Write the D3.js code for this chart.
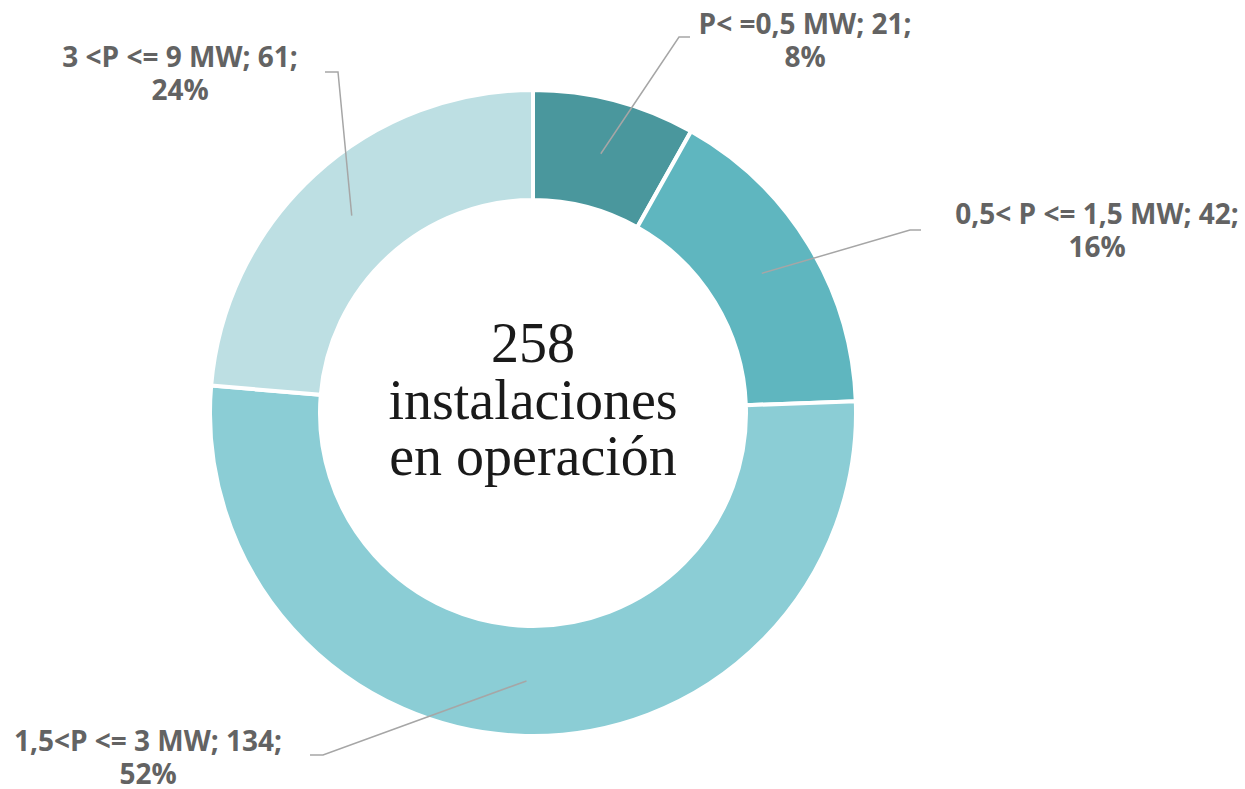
<!DOCTYPE html>
<html>
<head>
<meta charset="utf-8">
<script src="https://cdn.jsdelivr.net/npm/d3@7"></script>
<style>
  html, body { margin: 0; padding: 0; background: #fff; }
  svg { display: block; }
  .lbl { font-family: "Open Sans", "Noto Sans", sans-serif; font-weight: 700; font-size: 28px; fill: #636363; }
  .center { font-family: "Liberation Serif", "DejaVu Serif", serif; font-size: 56px; fill: #1a1a1a; }
  .leader { fill: none; stroke: #a6a6a6; stroke-width: 1.5; }
</style>
</head>
<body>
<svg id="chart" width="1245" height="789"></svg>
<script>
// ---- data ----
const categories = ['P< =0,5 MW', '0,5< P <= 1,5 MW', '1,5<P <= 3 MW', '3 <P <= 9 MW'];
const counts = [21, 42, 134, 61];
const percents = ['8%', '16%', '52%', '24%'];
const colors = ['#4a979d', '#5fb6bf', '#8bcdd5', '#bddfe3'];
const centerLines = ['258', 'instalaciones', 'en operación'];

// label layout (text centre x, first baseline y, elbow, line end)
const labelPos = [
  { x: 805, y: 34, ey: 37, ex: 679, tx: 690 },
  { x: 1097, y: 224, ey: 230, ex: 910, tx: 921 },
  { x: 148, y: 751, ey: 755, ex: 323, tx: 310 },
  { x: 180, y: 67, ey: 72, ex: 338, tx: 325 }
];

const cx = 533, cy = 413;
const rOuter = 323, rInner = 213;

const svg = d3.select('#chart');
const g = svg.append('g').attr('transform', `translate(${cx},${cy})`);

const pie = d3.pie().sort(null).value(d => d);
const arcs = pie(counts);
const arc = d3.arc().innerRadius(rInner).outerRadius(rOuter);
const mid = d3.arc().innerRadius((rInner + rOuter) / 2).outerRadius((rInner + rOuter) / 2);

g.selectAll('path.slice').data(arcs).enter().append('path')
  .attr('class', 'slice')
  .attr('d', arc)
  .attr('fill', (d, i) => colors[i])
  .attr('stroke', '#fff')
  .attr('stroke-width', 4);

// leader lines
svg.selectAll('path.leader').data(arcs).enter().append('path')
  .attr('class', 'leader')
  .attr('d', (d, i) => {
    const [px, py] = mid.centroid(d);
    const p = labelPos[i];
    return `M${cx + px},${cy + py}L${p.ex},${p.ey}L${p.tx},${p.ey}`;
  });

// labels
const lbl = svg.selectAll('text.lbl').data(arcs).enter().append('text')
  .attr('class', 'lbl')
  .attr('text-anchor', 'middle');
lbl.append('tspan').attr('x', (d, i) => labelPos[i].x).attr('y', (d, i) => labelPos[i].y)
  .text((d, i) => `${categories[i]}; ${counts[i]};`);
lbl.append('tspan').attr('x', (d, i) => labelPos[i].x).attr('y', (d, i) => labelPos[i].y + 33)
  .text((d, i) => percents[i]);

// centre text
svg.append('text').attr('class', 'center').attr('text-anchor', 'middle')
  .selectAll('tspan').data(centerLines).enter().append('tspan')
  .attr('x', cx)
  .attr('y', (d, i) => 362 + i * 56.5)
  .text(d => d);
</script>
</body>
</html>
